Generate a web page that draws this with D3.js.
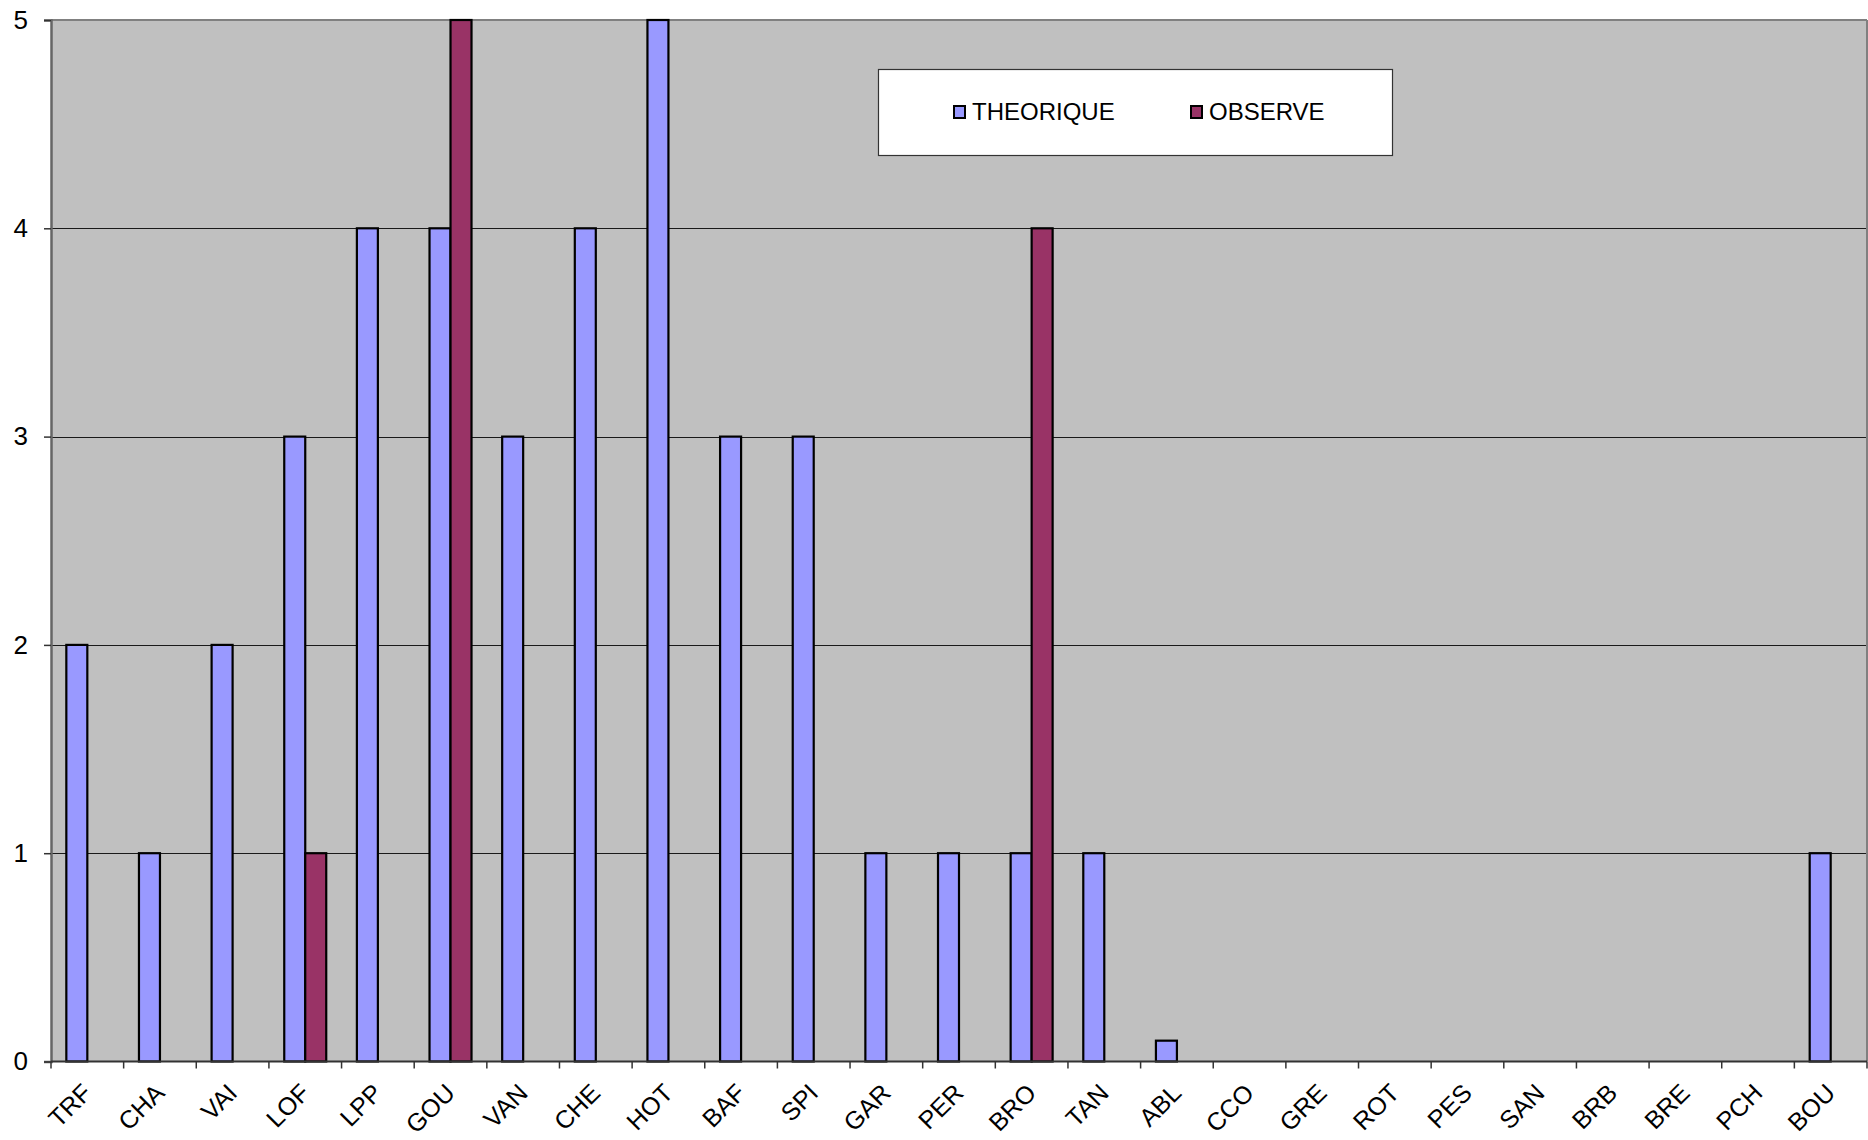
<!DOCTYPE html>
<html>
<head>
<meta charset="utf-8">
<script src="https://cdn.jsdelivr.net/npm/d3@7"></script>
<style>
  html, body { margin: 0; padding: 0; background: #fff; }
  svg { display: block; font-family: "Liberation Sans", Arial, sans-serif; }
</style>
</head>
<body>
<svg id="chart" width="1868" height="1140"></svg>
<script>
// Sites along the x axis
const categories = ["TRF","CHA","VAI","LOF","LPP","GOU","VAN","CHE","HOT","BAF","SPI","GAR","PER","BRO","TAN","ABL","CCO","GRE","ROT","PES","SAN","BRB","BRE","PCH","BOU"];
// Expected counts per site
const theorique = [2,1,2,3,4,4,3,4,5,3,3,1,1,1,1,0.1,0,0,0,0,0,0,0,0,1];
// Observed counts per site
const observe   = [0,0,0,1,0,5,0,0,0,0,0,0,0,4,0,0,0,0,0,0,0,0,0,0,0];
const seriesNames = ["THEORIQUE","OBSERVE"];
const seriesColors = ["#9999FF","#993366"];
const yTicks = [0,1,2,3,4,5];

const svg = d3.select("#chart");
const plot = { left: 51, top: 20, right: 1867, bottom: 1061.5 };

const x0 = d3.scaleBand().domain(categories).range([plot.left, plot.right]).padding(0);
const x1 = d3.scaleBand().domain(seriesNames).range([0, x0.bandwidth()]).paddingInner(0).paddingOuter(0.73);
const y = d3.scaleLinear().domain([0, 5]).range([plot.bottom, plot.top]);

// plot background
svg.append("rect")
  .attr("x", plot.left).attr("y", plot.top)
  .attr("width", plot.right - plot.left).attr("height", plot.bottom - plot.top)
  .attr("fill", "#C0C0C0");

// horizontal gridlines
svg.append("g").selectAll("line").data(yTicks.filter(d => d > 0 && d < 5)).join("line")
  .attr("x1", plot.left).attr("x2", plot.right)
  .attr("y1", d => Math.round(y(d)) + 0.5).attr("y2", d => Math.round(y(d)) + 0.5)
  .attr("stroke", "#1a1a1a").attr("stroke-width", 1);

// frame: top and right edges
svg.append("line").attr("x1", plot.left).attr("x2", plot.right).attr("y1", plot.top).attr("y2", plot.top)
  .attr("stroke", "#808080").attr("stroke-width", 2);
svg.append("line").attr("x1", plot.right).attr("x2", plot.right).attr("y1", plot.top).attr("y2", plot.bottom)
  .attr("stroke", "#808080").attr("stroke-width", 2);

// bars
const rows = categories.map((c, i) => ({ cat: c, values: [theorique[i], observe[i]] }));
const groups = svg.append("g").selectAll("g").data(rows).join("g")
  .attr("transform", d => `translate(${x0(d.cat)},0)`);
groups.selectAll("rect")
  .data(d => d.values.map((v, k) => ({ series: seriesNames[k], value: v, k })).filter(e => e.value > 0))
  .join("rect")
  .attr("x", d => x1(d.series))
  .attr("y", d => y(d.value))
  .attr("width", x1.bandwidth())
  .attr("height", d => y(0) - y(d.value))
  .attr("fill", d => seriesColors[d.k])
  .attr("stroke", "#000").attr("stroke-width", 2.2);

// y axis
const yAxis = d3.axisLeft(y).tickValues(yTicks).tickSize(7).tickPadding(16).tickFormat(d3.format("d"));
const gy = svg.append("g").attr("transform", `translate(${plot.left},0)`).call(yAxis);
gy.select(".domain").attr("stroke", "#666").attr("stroke-width", 2.5);
gy.selectAll(".tick line").attr("stroke", "#333").attr("stroke-width", 1.5);
gy.selectAll(".tick text").attr("font-size", 26).attr("fill", "#000")
  .attr("font-family", "Liberation Sans, Arial, sans-serif");

// x axis: tick marks at category boundaries
const xa = svg.append("g");
xa.append("line").attr("x1", plot.left).attr("x2", plot.right)
  .attr("y1", plot.bottom).attr("y2", plot.bottom)
  .attr("stroke", "#333").attr("stroke-width", 2);
const bounds = categories.map(c => x0(c)).concat([x0.range()[1]]);
xa.selectAll("line.tk").data(bounds).join("line").attr("class", "tk")
  .attr("x1", d => d).attr("x2", d => d)
  .attr("y1", plot.bottom).attr("y2", plot.bottom + 7)
  .attr("stroke", "#333").attr("stroke-width", 1.5);
xa.selectAll("text").data(categories).join("text")
  .attr("transform", d => `translate(${x0(d) + x0.bandwidth() / 2 + 6},${plot.bottom + 33}) rotate(-45)`)
  .attr("text-anchor", "end")
  .attr("font-size", 25)
  .attr("fill", "#000")
  .text(d => d);

// legend
const lg = svg.append("g");
lg.append("rect").attr("x", 878.5).attr("y", 69.5).attr("width", 514).attr("height", 86)
  .attr("fill", "#fff").attr("stroke", "#333").attr("stroke-width", 1.2);
const lgX = [953, 1190];
seriesNames.forEach((name, k) => {
  lg.append("rect").attr("x", lgX[k] + 1).attr("y", 106).attr("width", 11).attr("height", 12)
    .attr("fill", seriesColors[k]).attr("stroke", "#000").attr("stroke-width", 2);
  lg.append("text").attr("x", lgX[k] + 19).attr("y", 120).attr("font-size", 24).attr("fill", "#000").text(name);
});
</script>
</body>
</html>
